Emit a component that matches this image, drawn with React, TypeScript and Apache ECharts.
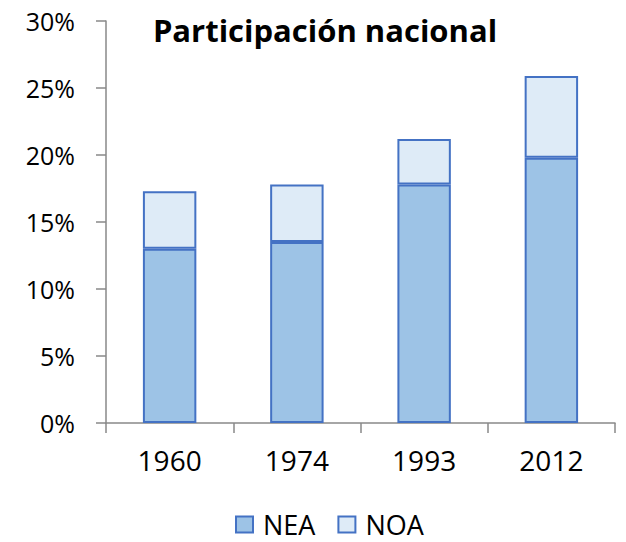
import React, { useEffect, useRef } from "react";
import * as echarts from "echarts";

const categories = ["1960", "1974", "1993", "2012"];
const neaValues = [13.0, 13.5, 17.8, 19.8];
const noaValues = [4.3, 4.3, 3.4, 6.1];
const yTicks = { min: 0, max: 30, interval: 5 };

export default function App() {
  const ref = useRef<HTMLDivElement>(null);
  useEffect(() => {
    if (!ref.current) return;
    const chart = echarts.init(ref.current, undefined, { renderer: "svg" });
    const font = "'Open Sans', 'Noto Sans', sans-serif";
    chart.setOption({
      animation: false,
      title: {
        text: "Participación nacional",
        left: 320,
        top: 9,
        textAlign: "center",
        textStyle: { fontFamily: font, fontSize: 31, fontWeight: "bold", color: "#000" },
      },
      legend: {
        top: 511,
        left: 235,
        padding: 0,
        icon: "rect",
        itemWidth: 17,
        itemHeight: 16,
        itemGap: 22,
        textStyle: { fontFamily: font, fontSize: 27, color: "#000", padding: [0, 0, 0, 5] },
        data: ["NEA", "NOA"],
      },
      grid: { left: 106, right: 11, top: 21, bottom: 119, containLabel: false },
      xAxis: {
        type: "category",
        data: categories,
        axisLine: { lineStyle: { color: "#898989", width: 1.5 } },
        axisTick: { show: true, alignWithLabel: false, length: 10, lineStyle: { color: "#898989", width: 1.5 } },
        axisLabel: { fontFamily: font, fontSize: 28, color: "#000", margin: 23 },
      },
      yAxis: {
        type: "value",
        min: yTicks.min,
        max: yTicks.max,
        interval: yTicks.interval,
        axisLine: { show: true, lineStyle: { color: "#898989", width: 1.5 } },
        axisTick: { show: true, length: 10, lineStyle: { color: "#898989", width: 1.5 } },
        splitLine: { show: false },
        axisLabel: {
          fontFamily: font,
          fontSize: 25,
          color: "#000",
          margin: 31,
          formatter: (v: number) => `${v}%`,
        },
      },
      series: [
        {
          name: "NEA",
          type: "bar",
          stack: "total",
          data: neaValues,
          barWidth: "42%",
          itemStyle: { color: "#9DC3E6", borderColor: "#4472C4", borderWidth: 2 },
        },
        {
          name: "NOA",
          type: "bar",
          stack: "total",
          data: noaValues,
          barWidth: "42%",
          itemStyle: { color: "#DEEBF7", borderColor: "#4472C4", borderWidth: 2 },
        },
      ],
    });
    return () => chart.dispose();
  }, []);
  return <div ref={ref} style={{ width: 626, height: 542, position: "absolute", left: 0, top: 0 }} />;
}
